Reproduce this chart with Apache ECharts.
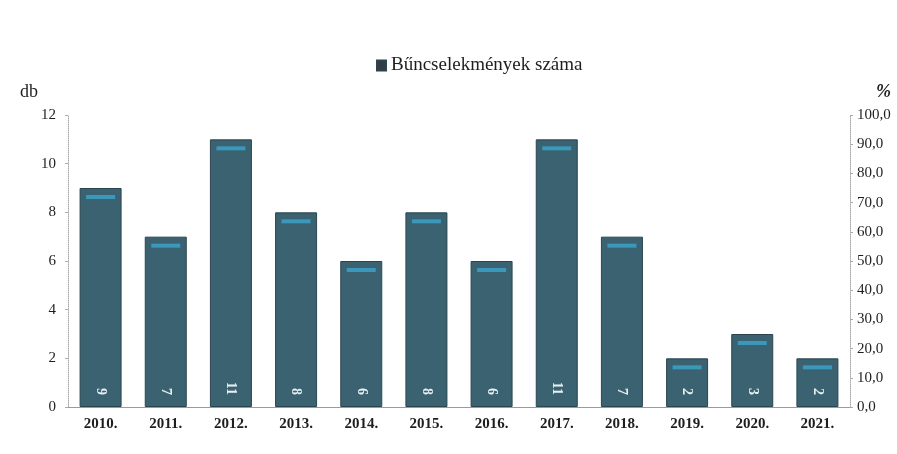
<!DOCTYPE html>
<html>
<head>
<meta charset="utf-8">
<script src="https://cdn.jsdelivr.net/npm/echarts@6/dist/echarts.min.js"></script>
<style>
  html, body { margin: 0; padding: 0; background: #fff; }
  #chart { width: 897px; height: 454px; }
</style>
</head>
<body>
<div id="chart"></div>
<script>
const years = ['2010.', '2011.', '2012.', '2013.', '2014.', '2015.', '2016.', '2017.', '2018.', '2019.', '2020.', '2021.'];
const crimes = [9, 7, 11, 8, 6, 8, 6, 11, 7, 2, 3, 2];

const serif = '"Liberation Serif", "DejaVu Serif", serif';
const chart = echarts.init(document.getElementById('chart'));

const option = {
  backgroundColor: '#ffffff',
  textStyle: { fontFamily: serif },
  legend: {
    data: [{ name: 'Bűncselekmények száma', icon: 'rect', itemStyle: { color: '#333c40' } }],
    top: 51,
    left: 371,
    itemWidth: 9,
    itemHeight: 10,
    itemGap: 2,
    textStyle: { fontFamily: serif, fontSize: 19, color: '#1e1e1e' }
  },
  grid: { left: 68, right: 47, top: 115, bottom: 47 },
  xAxis: {
    type: 'category',
    data: years,
    axisLine: { lineStyle: { color: '#9a9a9a', width: 1 } },
    axisTick: { show: false },
    axisLabel: { fontFamily: serif, fontSize: 15, fontWeight: 'bold', color: '#1e1e1e', margin: 10 }
  },
  yAxis: [
    {
      type: 'value',
      min: 0, max: 12, interval: 2,
      name: 'db',
      nameLocation: 'end',
      nameGap: 14,
      nameTextStyle: { fontFamily: serif, fontSize: 18, color: '#1e1e1e', align: 'right', padding: [0, 30, 0, 0] },
      axisLine: { show: true, lineStyle: { color: '#aaa', type: 'dotted' } },
      axisTick: { show: true, length: 3, lineStyle: { color: '#aaa' } },
      splitLine: { show: false },
      axisLabel: { fontFamily: serif, fontSize: 15, color: '#1e1e1e', margin: 12 }
    },
    {
      type: 'value',
      min: 0, max: 100, interval: 10,
      name: '%',
      nameLocation: 'end',
      nameGap: 14,
      nameTextStyle: { fontFamily: serif, fontSize: 18, color: '#1e1e1e', fontStyle: 'italic', fontWeight: 'bold', align: 'left', padding: [0, 0, 0, 26] },
      axisLine: { show: true, lineStyle: { color: '#aaa', type: 'dotted' } },
      axisTick: { show: true, length: 3, lineStyle: { color: '#aaa' } },
      splitLine: { show: false },
      axisLabel: {
        fontFamily: serif, fontSize: 15, color: '#1e1e1e', margin: 7,
        formatter: v => v.toFixed(1).replace('.', ',')
      }
    }
  ],
  series: [
    {
      name: 'Bűncselekmények száma',
      type: 'bar',
      data: crimes,
      barWidth: 42,
      itemStyle: { color: '#3a6270', borderColor: '#2b4550', borderWidth: 1 },
      label: {
        show: true,
        position: 'insideBottom',
        rotate: -90,
        align: 'right',
        verticalAlign: 'middle',
        distance: 12,
        color: '#e6eff2',
        fontFamily: serif,
        fontSize: 14,
        fontWeight: 'bold'
      },
      z: 2
    },
    {
      type: 'pictorialBar',
      data: crimes,
      symbol: 'rect',
      symbolSize: [29, 4],
      symbolPosition: 'end',
      symbolOffset: [0, 7],
      itemStyle: { color: '#3b98ba' },
      silent: true,
      z: 3
    }
  ]
};

chart.setOption(option);
</script>
</body>
</html>
